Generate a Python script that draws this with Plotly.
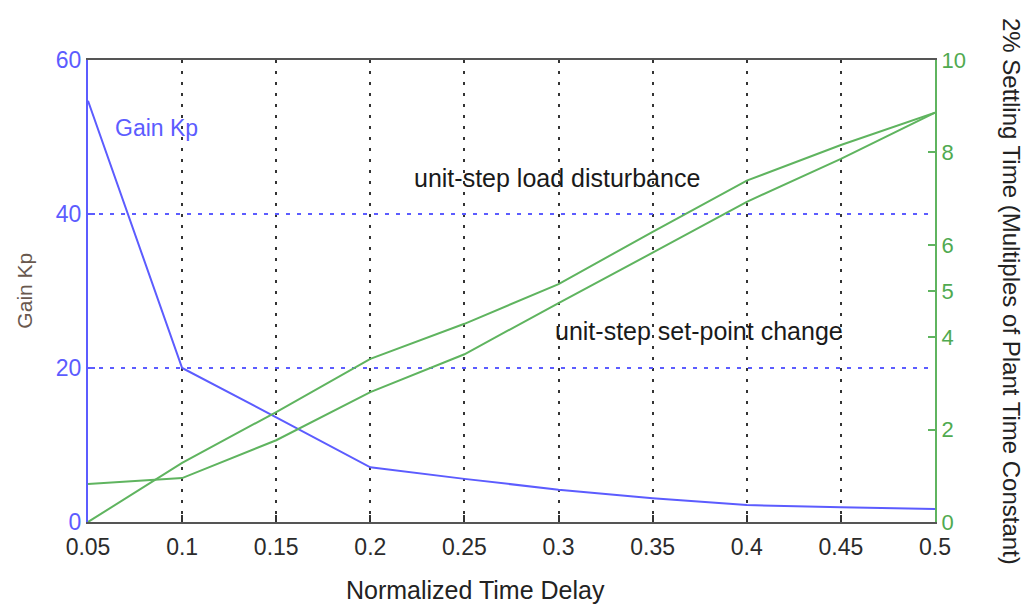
import plotly.graph_objects as go

delay = [0.05, 0.1, 0.15, 0.2, 0.25, 0.3, 0.35, 0.4, 0.45, 0.5]
gain_kp = [54.7, 20.0, 13.6, 7.1, 5.6, 4.2, 3.1, 2.2, 1.9, 1.7]
load_dist = [0.0, 1.28, 2.38, 3.53, 4.29, 5.15, 6.28, 7.39, 8.16, 8.86]
setpoint = [0.82, 0.95, 1.77, 2.81, 3.63, 4.74, 5.83, 6.93, 7.86, 8.86]

x_ticks = [0.05, 0.1, 0.15, 0.2, 0.25, 0.3, 0.35, 0.4, 0.45, 0.5]
x_ticktext = ["0.05", "0.1", "0.15", "0.2", "0.25", "0.3", "0.35", "0.4", "0.45", "0.5"]
left_ticks = [0, 20, 40, 60]
right_ticks = [0, 2, 4, 5, 6, 8, 10]

BLUE = "rgb(92,92,255)"
GREEN = "rgb(95,180,95)"
DARK = "#2b2b2b"
FONT = "Liberation Sans, Arial, sans-serif"

fig = go.Figure()
fig.add_trace(go.Scatter(x=delay, y=gain_kp, mode="lines", name="Gain Kp",
                         line=dict(color=BLUE, width=2), yaxis="y"))
fig.add_trace(go.Scatter(x=delay, y=load_dist, mode="lines", name="unit-step load disturbance",
                         line=dict(color=GREEN, width=2), yaxis="y2"))
fig.add_trace(go.Scatter(x=delay, y=setpoint, mode="lines", name="unit-step set-point change",
                         line=dict(color=GREEN, width=2), yaxis="y2"))

fig.update_layout(
    width=1031, height=613,
    margin=dict(l=88, r=96, t=60, b=91),
    paper_bgcolor="white", plot_bgcolor="white",
    showlegend=False,
    font=dict(family=FONT, color=DARK),
    xaxis=dict(
        range=[0.05, 0.5], tickvals=x_ticks, ticktext=x_ticktext,
        showgrid=True, gridcolor="#333333", gridwidth=2, griddash="3px,8px",
        showline=True, linecolor="#555555", linewidth=2, mirror=True,
        ticks="inside", ticklen=7, tickwidth=2, tickcolor="#333333",
        tickfont=dict(size=23, color=DARK, family=FONT),
        ticklabelstandoff=3,
        zeroline=False,
    ),
    yaxis=dict(
        range=[0, 60], tickvals=left_ticks,
        showgrid=True, gridcolor=BLUE, gridwidth=2, griddash="4px,7px",
        showline=True, linecolor=BLUE, linewidth=2,
        ticks="inside", ticklen=7, tickwidth=2, tickcolor=BLUE,
        tickfont=dict(size=23, color=BLUE, family=FONT),
        zeroline=False,
    ),
    yaxis2=dict(
        range=[0, 10], tickvals=right_ticks, overlaying="y", side="right",
        showgrid=False, showline=True, linecolor=GREEN, linewidth=2,
        ticks="inside", ticklen=7, tickwidth=2, tickcolor=GREEN,
        tickfont=dict(size=22, color="rgb(80,170,80)", family=FONT),
        zeroline=False,
    ),
)

annotations = [
    dict(text="Gain Kp", x=0.0633, y=51.2, xref="x", yref="y", showarrow=False,
         xanchor="left", yanchor="middle", font=dict(size=23, color=BLUE)),
    dict(text="unit-step load disturbance", x=0.2221, y=7.45, xref="x", yref="y2",
         showarrow=False, xanchor="left", yanchor="middle",
         font=dict(size=25, color="#1a1a1a")),
    dict(text="unit-step set-point change", x=0.297, y=4.13, xref="x", yref="y2",
         showarrow=False, xanchor="left", yanchor="middle",
         font=dict(size=25, color="#1a1a1a")),
    dict(text="Normalized Time Delay", x=0.458, y=-0.147, xref="paper", yref="paper",
         showarrow=False, xanchor="center", yanchor="middle",
         font=dict(size=25, color="#222222")),
    dict(text="Gain Kp", x=-0.076, y=0.5, xref="paper", yref="paper", textangle=-90,
         showarrow=False, xanchor="center", yanchor="middle",
         font=dict(size=21, color="rgb(105,88,78)")),
    dict(text="2% Settling Time (Multiples of Plant Time Constant)", x=1.091, y=0.5,
         xref="paper", yref="paper", textangle=90, showarrow=False,
         xanchor="center", yanchor="middle",
         font=dict(size=24, color="#222222")),
]
fig.update_layout(annotations=annotations)

fig.write_html("out.html")
